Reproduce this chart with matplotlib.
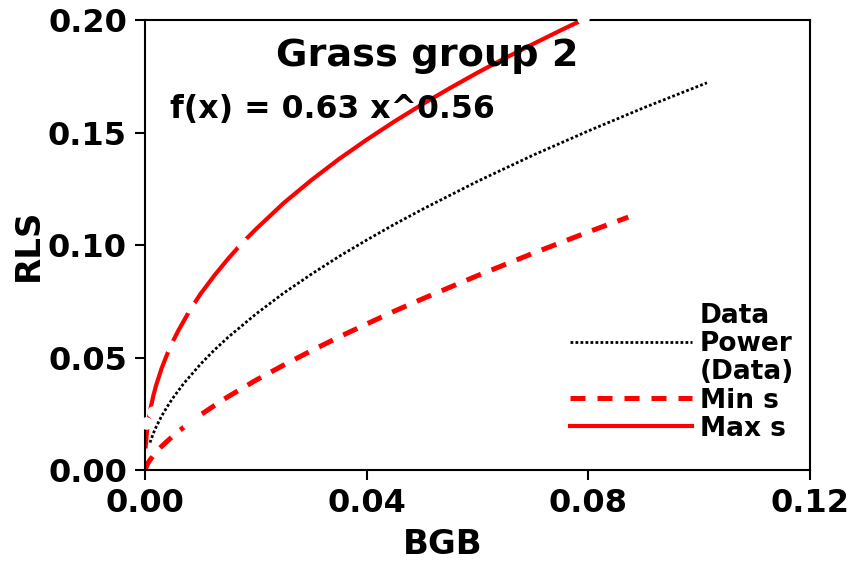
import numpy as np
import matplotlib
matplotlib.use('Agg')
import matplotlib.pyplot as plt
from matplotlib.lines import Line2D

# values
# Data points (drawn in white, only visible where they cut the red line)
data_x = [0.0002, 0.0014, 0.0045, 0.0078, 0.0081, 0.0175, 0.079]
data_y = [0.021, 0.026, 0.055, 0.021, 0.0724, 0.101, 0.201]

# Power (Data) trend line, f(x) = 0.63 x^0.56
power_x = [0.0009, 0.0015, 0.002, 0.003, 0.004, 0.005, 0.007, 0.01, 0.0125,
           0.015, 0.02, 0.025, 0.03, 0.035, 0.04, 0.045, 0.05, 0.06, 0.07,
           0.08, 0.09, 0.1014]
power_y = [0.0122, 0.0163, 0.0191, 0.0240, 0.0281, 0.0319, 0.0385, 0.0470,
           0.0533, 0.0590, 0.0693, 0.0786, 0.0870, 0.0949, 0.1022, 0.1092,
           0.1158, 0.1283, 0.1399, 0.1507, 0.1610, 0.1721]

# Min s curve
min_x = [0.0, 0.0005, 0.001, 0.002, 0.003, 0.004, 0.006, 0.008, 0.01,
         0.0125, 0.015, 0.02, 0.025, 0.03, 0.035, 0.04, 0.045, 0.05, 0.06,
         0.07, 0.08, 0.0872]
min_y = [0.0, 0.0030, 0.0048, 0.0079, 0.0105, 0.0128, 0.0171, 0.0209,
         0.0245, 0.0286, 0.0326, 0.0399, 0.0466, 0.0530, 0.0591, 0.0649,
         0.0706, 0.0760, 0.0864, 0.0963, 0.1058, 0.1124]

# Max s curve
max_x = [0.0001, 0.0003, 0.0005, 0.001, 0.0015, 0.002, 0.003, 0.004, 0.005,
         0.006, 0.008, 0.01, 0.0125, 0.015, 0.0175, 0.02, 0.025, 0.03, 0.035,
         0.04, 0.045, 0.05, 0.055, 0.06, 0.065, 0.07, 0.075, 0.08]
max_y = [0.0096, 0.0158, 0.020, 0.0274, 0.0330, 0.0376, 0.0452, 0.0515,
         0.0570, 0.0619, 0.0706, 0.0782, 0.0864, 0.0939, 0.1008, 0.107,
         0.1186, 0.1288, 0.1382, 0.1468, 0.1549, 0.1625, 0.1697, 0.1766,
         0.1831, 0.1893, 0.1954, 0.2013]

x_ticks = [0.0, 0.04, 0.08, 0.12]
x_tick_labels = ['0.00', '0.04', '0.08', '0.12']
y_ticks = [0.0, 0.05, 0.10, 0.15, 0.20]
y_tick_labels = ['0.00', '0.05', '0.10', '0.15', '0.20']

plt.rcParams['font.family'] = ['DejaVu Sans']
plt.rcParams['font.weight'] = 'bold'

fig = plt.figure(figsize=(8.55, 5.62), dpi=100)
ax = fig.add_axes([0.1696, 0.1637, 0.9474 - 0.1696, 0.9644 - 0.1637])

min_dash = (0, (3.1, 2.3))
dot_style = (0, (1, 0.8))

# curves
ax.plot(power_x, power_y, color='black', linewidth=2.0, linestyle=dot_style)
ax.plot(min_x, min_y, color='red', linewidth=3.6, linestyle=min_dash)
ax.plot(max_x, max_y, color='red', linewidth=3.0, solid_capstyle='butt')
# data markers in white on top
ax.plot(data_x, data_y, linestyle='none', marker='o', markersize=8,
        markerfacecolor='white', markeredgecolor='white', zorder=10,
        clip_on=False)

ax.set_xlim(0, 0.12)
ax.set_ylim(0, 0.2)
ax.set_xticks(x_ticks)
ax.set_xticklabels(x_tick_labels, fontsize=23, fontweight='bold')
ax.set_yticks(y_ticks)
ax.set_yticklabels(y_tick_labels, fontsize=23, fontweight='bold')
ax.tick_params(direction='out', length=7, width=1.5, pad=6)
for sp in ax.spines.values():
    sp.set_linewidth(1.5)

ax.set_xlabel('BGB', fontsize=24.5, fontweight='bold')
ax.xaxis.set_label_coords(0.447, -0.130)
ax.set_ylabel('RLS', fontsize=24.5, fontweight='bold')
ax.yaxis.set_label_coords(-0.150, 0.5)

ax.text(0.424, 0.92, 'Grass group 2', transform=ax.transAxes,
        fontsize=27.5, fontweight='bold', ha='center', va='center')
ax.text(0.037, 0.802, 'f(x) = 0.63 x^0.56', transform=ax.transAxes,
        fontsize=22.7, fontweight='bold', ha='left', va='center')

# legend
handles = [
    Line2D([], [], linestyle='none', marker='o', markerfacecolor='white',
           markeredgecolor='white'),
    Line2D([], [], color='black', linewidth=2.0, linestyle=dot_style),
    Line2D([], [], linestyle='none'),
    Line2D([], [], color='red', linewidth=3.6, linestyle=(0, (3.0, 2.4))),
    Line2D([], [], color='red', linewidth=3.0),
]
labels = ['Data', 'Power', '(Data)', 'Min s', 'Max s']
leg = ax.legend(handles, labels, loc='lower left',
                bbox_to_anchor=(0.612, 0.022), frameon=False,
                prop={'size': 19, 'weight': 'bold'},
                handlelength=4.6, handletextpad=0.3, labelspacing=0.08,
                borderaxespad=0.3)

fig.savefig('out.png', dpi=100)
